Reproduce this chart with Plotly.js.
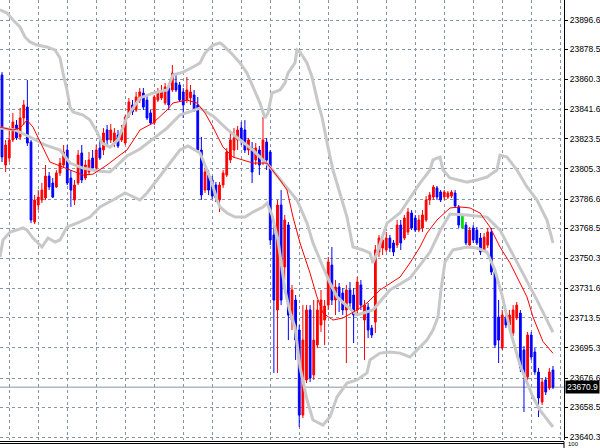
<!DOCTYPE html>
<html><head><meta charset="utf-8">
<script src="https://cdn.plot.ly/plotly-3.0.1.min.js"></script>
<style>html,body{margin:0;padding:0;background:#fff}#chart{width:600px;height:448px}</style>
</head><body><div id="chart"></div>
<script>
// ---- OHLC data (bar index 0..152) ----
const opens = [23862.8,23807.5,23811.8,23822.9,23832.1,23824.7,23836.4,23843.1,23821.6,23772.5,
23782.9,23786.0,23787.2,23800.7,23796.4,23794.0,23802.6,23807.5,23816.7,23799.5,
23786.0,23796.4,23814.9,23799.5,23803.2,23811.8,23805.6,23817.9,23816.7,23829.0,
23822.9,23821.0,23825.9,23822.9,23821.0,23838.2,23844.4,23841.3,23847.4,23851.7,
23847.4,23839.5,23833.3,23847.4,23848.7,23845.6,23854.8,23853.6,23857.9,23856.7,
23852.4,23847.4,23848.7,23850.5,23844.4,23816.7,23792.1,23801.3,23798.3,23795.2,
23786.0,23795.2,23801.3,23810.6,23816.7,23822.9,23830.2,23829.0,23816.7,23817.9,
23810.6,23816.7,23810.6,23821.6,23815.5,23764.5,23718.4,23782.9,23744.8,23770.6,
23712.2,23724.5,23706.1,23653.8,23675.4,23718.4,23678.5,23696.9,23709.2,23712.2,
23721.4,23746.0,23724.5,23732.5,23728.8,23718.4,23730.7,23727.6,23718.4,23733.8,
23712.2,23720.2,23707.3,23711.0,23754.0,23756.5,23755.3,23762.6,23759.6,23758.3,
23770.6,23762.6,23766.3,23778.0,23774.9,23767.5,23768.8,23773.7,23786.0,23787.8,
23793.4,23790.9,23787.8,23787.8,23788.4,23790.3,23781.7,23776.8,23770.6,23758.3,
23768.8,23767.5,23762.6,23755.3,23758.3,23766.3,23741.7,23714.1,23695.0,23714.1,
23709.2,23704.2,23713.5,23716.5,23693.8,23677.2,23703.0,23692.6,23680.3,23661.8,
23675.4,23670.4,23681.5];
const highs = [23864.6,23822.9,23830.2,23839.5,23835.1,23842.5,23847.4,23859.7,23822.9,23789.1,
23792.1,23796.4,23807.5,23803.2,23799.5,23804.4,23811.8,23819.8,23819.8,23804.4,
23798.3,23816.7,23819.8,23810.6,23815.5,23816.7,23819.8,23822.9,23830.2,23832.1,
23832.7,23830.2,23829.0,23832.1,23838.2,23848.7,23847.4,23852.4,23854.8,23854.8,
23850.5,23841.3,23850.5,23854.8,23856.7,23857.9,23856.7,23869.0,23862.8,23858.5,
23854.8,23861.6,23856.7,23853.6,23849.3,23824.7,23805.6,23804.4,23800.7,23797.0,
23797.0,23804.4,23817.9,23827.2,23830.2,23831.5,23833.9,23835.1,23824.1,23821.6,
23821.0,23819.2,23837.0,23824.1,23816.7,23770.6,23786.0,23792.1,23776.8,23772.5,
23733.8,23727.6,23709.2,23721.4,23721.4,23721.4,23724.5,23724.5,23730.7,23724.5,
23751.0,23757.1,23736.8,23735.0,23731.9,23733.8,23735.6,23731.9,23738.6,23736.8,
23724.5,23722.7,23709.2,23758.3,23764.5,23763.9,23766.3,23764.5,23761.4,23773.7,
23773.7,23776.8,23781.1,23779.8,23776.8,23776.8,23779.8,23788.4,23790.9,23795.2,
23794.6,23792.1,23792.1,23791.5,23792.1,23792.1,23782.9,23777.4,23772.5,23769.4,
23770.6,23769.4,23765.7,23765.7,23768.8,23768.8,23743.0,23724.5,23718.4,23716.5,
23718.4,23721.4,23723.3,23718.4,23696.2,23704.9,23704.9,23695.0,23682.8,23676.6,
23677.2,23682.8,23684.0];
const lows = [23809.3,23803.2,23809.3,23821.6,23822.9,23822.9,23832.1,23819.2,23771.8,23771.2,
23779.8,23784.1,23786.0,23792.1,23787.2,23793.4,23800.7,23805.6,23795.2,23781.7,
23782.9,23795.2,23796.4,23798.3,23801.3,23804.4,23804.4,23810.6,23813.6,23819.8,
23821.0,23818.5,23817.9,23821.6,23819.8,23836.4,23838.2,23840.1,23845.6,23841.3,
23835.1,23832.1,23832.1,23846.2,23847.4,23844.4,23841.3,23852.4,23852.4,23846.2,
23836.4,23845.6,23844.4,23840.1,23815.5,23786.0,23790.3,23789.1,23786.6,23784.7,
23778.6,23793.4,23800.1,23808.7,23811.8,23816.7,23819.8,23814.9,23813.6,23796.4,
23807.5,23801.3,23807.5,23804.4,23758.3,23679.7,23679.7,23721.4,23736.8,23699.9,
23706.1,23687.7,23646.5,23652.0,23673.5,23674.1,23675.4,23695.0,23704.9,23696.9,
23718.4,23721.4,23715.3,23717.1,23715.3,23685.8,23718.4,23698.1,23715.3,23718.4,
23687.7,23701.2,23701.2,23704.2,23751.0,23752.2,23754.0,23754.0,23751.6,23756.5,
23755.3,23761.4,23764.5,23767.5,23766.3,23766.3,23766.3,23772.5,23782.9,23786.0,
23786.0,23784.7,23786.0,23786.6,23787.2,23781.1,23768.8,23768.2,23758.3,23757.1,
23759.6,23758.3,23752.2,23754.0,23756.5,23739.9,23695.0,23685.8,23693.8,23707.3,
23706.1,23702.4,23712.2,23680.3,23655.7,23675.4,23687.7,23678.5,23652.6,23660.0,
23666.1,23669.2,23669.8];
const closes = [23812.4,23819.8,23822.9,23833.9,23824.1,23836.4,23844.4,23821.0,23773.7,23786.0,
23787.8,23792.1,23800.7,23794.0,23787.8,23802.6,23808.7,23815.5,23796.4,23792.1,
23795.2,23813.6,23798.3,23807.5,23810.6,23805.6,23816.7,23811.8,23827.2,23822.9,
23829.0,23827.2,23819.2,23829.0,23837.0,23846.2,23840.1,23849.3,23852.4,23843.1,
23836.4,23833.3,23849.3,23851.7,23852.4,23855.4,23844.4,23864.0,23853.6,23847.4,
23844.4,23853.6,23852.4,23841.3,23816.7,23789.1,23803.2,23792.1,23788.4,23787.2,
23795.2,23802.6,23815.5,23822.9,23824.1,23829.0,23822.9,23816.7,23822.9,23803.2,
23817.9,23807.5,23822.9,23810.6,23761.4,23724.5,23782.9,23724.5,23773.7,23715.3,
23730.7,23699.9,23653.8,23699.9,23718.4,23676.6,23699.9,23718.4,23724.5,23720.8,
23747.9,23724.5,23732.5,23724.5,23718.4,23730.7,23722.7,23715.3,23735.6,23721.4,
23721.4,23706.1,23703.0,23755.3,23762.6,23761.4,23762.6,23756.5,23754.0,23770.6,
23759.6,23774.9,23778.6,23768.8,23767.5,23773.7,23776.8,23786.0,23789.1,23794.0,
23787.8,23786.0,23790.9,23790.3,23790.9,23782.3,23770.6,23768.8,23759.6,23767.5,
23761.4,23759.6,23754.0,23763.2,23766.3,23741.7,23696.9,23699.9,23715.3,23709.2,
23715.3,23718.4,23721.4,23682.8,23678.5,23703.0,23689.5,23680.3,23664.3,23674.1,
23668.0,23680.3,23670.9];
const greenBars = [127];

// ---- Bollinger bands (bar position, price) ----
const upperX = [-0.55,1.38,3.03,4.97,6.34,7.72,9.66,12.41,14.62,16.0,16.83,17.93,18.76,19.59,22.34,24.28,26.21,27.59,29.8,32.0,34.48,38.07,41.66,45.52,47.17,49.93,52.69,54.62,56.0,58.21,60.14,60.97,63.72,65.66,67.59,69.24,71.17,72.55,73.38,74.48,76.69,78.07,78.9,80.83,81.38,82.21,84.14,85.52,86.34,87.17,88.28,89.1,89.93,91.31,93.24,95.17,96.83,99.59,101.52,102.34,103.45,106.21,109.79,112.55,115.31,118.07,118.9,120.83,121.66,123.59,128.28,131.03,133.79,136.55,137.38,139.31,142.07,144.83,147.59,150.34,152.0];
const upperY = [23902.8,23900.9,23896.6,23892.3,23886.2,23883.1,23881.2,23880.0,23878.2,23873.3,23864.0,23853.6,23843.1,23840.1,23838.2,23835.1,23827.8,23821.0,23818.5,23822.9,23837.0,23848.7,23851.7,23853.6,23862.8,23864.6,23867.7,23870.2,23876.3,23881.2,23882.5,23881.2,23875.1,23870.2,23864.0,23855.4,23845.6,23836.4,23839.5,23851.7,23853.6,23857.9,23864.0,23870.2,23878.2,23876.9,23870.2,23861.6,23853.6,23845.6,23837.0,23827.2,23818.5,23804.4,23790.3,23775.5,23757.1,23755.3,23753.4,23747.3,23753.4,23771.8,23778.0,23787.2,23796.4,23804.4,23810.6,23812.4,23804.4,23799.5,23797.0,23798.3,23800.1,23804.4,23813.6,23812.4,23804.4,23794.0,23786.0,23773.7,23759.6];
const midX = [-0.55,3.59,7.72,11.86,16.0,18.76,22.34,26.21,29.79,34.48,38.07,41.66,45.52,49.1,54.62,58.21,62.07,65.66,69.24,73.93,77.52,81.38,84.14,85.79,88.55,90.48,92.41,97.93,102.34,107.03,112.55,118.07,120.83,123.59,128.28,133.79,137.38,142.07,147.59,152.0];
const midY = [23830.2,23829.0,23824.7,23819.8,23816.7,23808.7,23805.6,23803.8,23803.2,23813.0,23817.3,23823.5,23830.2,23838.2,23842.5,23837.6,23829.6,23822.9,23816.7,23806.3,23796.4,23786.0,23771.8,23759.6,23744.8,23735.0,23726.4,23715.3,23718.4,23730.7,23738.0,23754.0,23766.9,23777.4,23776.8,23775.5,23767.5,23747.9,23724.5,23704.7];
const lowerX = [-0.55,0.28,2.21,5.79,6.9,8.55,11.03,12.69,14.62,16.0,17.93,21.52,24.28,27.03,30.62,33.93,38.07,40.0,42.76,45.52,49.1,51.31,54.62,56.55,57.93,59.31,60.14,62.07,64.28,67.03,69.24,72.0,73.1,74.48,76.14,78.07,79.45,80.83,82.21,84.14,85.79,88.55,90.48,92.41,95.17,97.93,100.69,101.52,104.28,107.03,109.79,112.55,115.31,117.24,118.9,120.28,121.1,122.21,124.41,128.28,131.03,133.79,135.97,137.93,140.14,142.9,146.48,148.41,152.0];
const lowerY = [23750.9,23761.4,23766.3,23768.8,23767.5,23762.6,23757.1,23762.6,23760.2,23761.4,23769.4,23772.5,23775.5,23781.7,23786.0,23790.3,23786.0,23790.3,23798.3,23806.3,23816.7,23819.2,23814.9,23804.4,23796.4,23786.0,23781.7,23778.0,23775.5,23775.5,23778.6,23781.7,23784.1,23776.8,23761.4,23730.7,23717.1,23707.9,23683.3,23663.1,23650.8,23647.7,23652.6,23664.9,23673.5,23675.4,23679.7,23687.7,23691.9,23692.6,23691.9,23689.5,23695.6,23699.9,23706.1,23714.1,23730.7,23747.9,23755.3,23757.1,23756.5,23754.0,23743.0,23727.6,23706.1,23684.6,23664.9,23656.9,23646.5];
// ---- Moving average (red) ----
const maX = [-0.55,3.03,4.97,6.9,8.55,10.48,13.24,16.0,18.76,22.34,25.1,28.97,32.55,34.48,38.07,41.66,45.52,47.17,51.03,53.79,56.0,58.21,60.97,63.72,69.24,73.1,76.69,78.62,80.28,82.21,84.97,86.9,88.55,91.31,94.07,97.93,100.69,104.28,109.79,112.55,115.31,117.24,120.0,123.59,126.34,129.1,131.86,134.62,137.38,140.14,142.9,144.83,146.48,149.24,152.0];
const maY = [23830.8,23829.0,23830.2,23835.1,23830.8,23821.6,23809.3,23806.9,23804.4,23801.3,23801.9,23807.5,23813.6,23816.7,23829.0,23833.3,23841.3,23845.6,23847.4,23845.6,23839.5,23830.8,23818.5,23812.4,23808.7,23808.7,23798.3,23792.1,23775.5,23759.6,23741.1,23726.4,23716.5,23712.2,23713.5,23718.4,23722.7,23730.7,23738.6,23747.3,23757.1,23765.7,23773.7,23781.1,23781.7,23781.1,23778.0,23769.4,23757.1,23747.3,23735.0,23726.4,23714.1,23699.0,23691.8];

// ---- price axis labels ----
const yTicks = [23896.6,23878.5,23860.3,23841.6,23823.5,23805.3,23786.6,23768.5,23750.3,23731.6,23713.5,23695.3,23676.6,23658.5,23640.3];
const lastPrice = 23670.9;
const subLabel = '100';

const idx = opens.map((_, i) => i);
const mainIdx = idx.filter(i => !greenBars.includes(i));
const pick = (a, ix) => ix.map(i => a[i]);

const bandStyle = {color: '#c8c8c8', width: 3};
const traces = [
  {type: 'scatter', mode: 'lines', x: upperX, y: upperY, line: bandStyle, hoverinfo: 'skip'},
  {type: 'scatter', mode: 'lines', x: midX, y: midY, line: bandStyle, hoverinfo: 'skip'},
  {type: 'scatter', mode: 'lines', x: lowerX, y: lowerY, line: bandStyle, hoverinfo: 'skip'},
  {type: 'candlestick', x: pick(idx, mainIdx), open: pick(opens, mainIdx), high: pick(highs, mainIdx),
   low: pick(lows, mainIdx), close: pick(closes, mainIdx),
   increasing: {line: {color: '#ff0000', width: 1}, fillcolor: '#ff0000'},
   decreasing: {line: {color: '#0000ff', width: 1}, fillcolor: '#0000ff'},
   whiskerwidth: 0},
  {type: 'candlestick', x: pick(idx, greenBars), open: pick(opens, greenBars), high: pick(highs, greenBars),
   low: pick(lows, greenBars), close: pick(closes, greenBars),
   increasing: {line: {color: '#00e000', width: 1}, fillcolor: '#00e000'},
   decreasing: {line: {color: '#00e000', width: 1}, fillcolor: '#00e000'},
   whiskerwidth: 0},
  {type: 'scatter', mode: 'lines', x: maX, y: maY, line: {color: '#ff0000', width: 1}, hoverinfo: 'skip'}
];

const layout = {
  width: 600, height: 448,
  margin: {l: 0, r: 36, t: 0, b: 8},
  paper_bgcolor: '#ffffff', plot_bgcolor: '#ffffff',
  showlegend: false,
  font: {family: 'Liberation Sans, Arial, sans-serif', size: 8.5, color: '#000'},
  xaxis: {
    range: [-0.552, 155.04], showticklabels: false, ticks: '', zeroline: false,
    showgrid: true, tick0: 2, dtick: 8, gridcolor: '#8594a8', griddash: '3px,3px', gridwidth: 1,
    rangeslider: {visible: false}, showline: false, fixedrange: true
  },
  yaxis: {
    side: 'right', range: [23638.5, 23908.9], tickmode: 'array', tickvals: yTicks,
    ticktext: yTicks.map(v => v.toFixed(1)), ticks: 'outside', ticklen: 3, tickcolor: '#000',
    showline: true, linecolor: '#000', linewidth: 1, mirror: false, zeroline: false,
    showgrid: true, gridcolor: '#8594a8', griddash: '3px,3px', gridwidth: 1,
    tickfont: {size: 8.5, color: '#000'}, fixedrange: true
  },
  shapes: [
    {type: 'line', xref: 'paper', yref: 'y', x0: 0, x1: 1, y0: lastPrice, y1: lastPrice,
     line: {color: '#b0b8c2', width: 1.5}, layer: 'below'},
    {type: 'line', xref: 'paper', yref: 'paper', x0: 0, x1: 1, y0: -1.5/440, y1: -1.5/440,
     line: {color: '#000', width: 1}},
    {type: 'line', xref: 'paper', yref: 'paper', x0: 0, x1: 1, y0: -3.5/440, y1: -3.5/440,
     line: {color: '#000', width: 1}},
    {type: 'line', xref: 'paper', yref: 'paper', x0: 1, x1: 1, y0: -1.5/440, y1: -9/440,
     line: {color: '#000', width: 1}}
  ],
  annotations: [
    {xref: 'paper', yref: 'y', x: 1, y: lastPrice, xanchor: 'left', yanchor: 'middle', xshift: 1,
     text: lastPrice.toFixed(1), showarrow: false, bgcolor: '#000', borderpad: 1,
     font: {size: 8.5, color: '#fff'}},
    {xref: 'paper', yref: 'paper', x: 1, y: -8/440, xanchor: 'left', yanchor: 'bottom', xshift: 3,
     text: subLabel, showarrow: false, borderpad: 0, font: {size: 6, color: '#000'}}
  ]
};

Plotly.newPlot('chart', traces, layout, {displayModeBar: false, staticPlot: true});
</script>
</body></html>
